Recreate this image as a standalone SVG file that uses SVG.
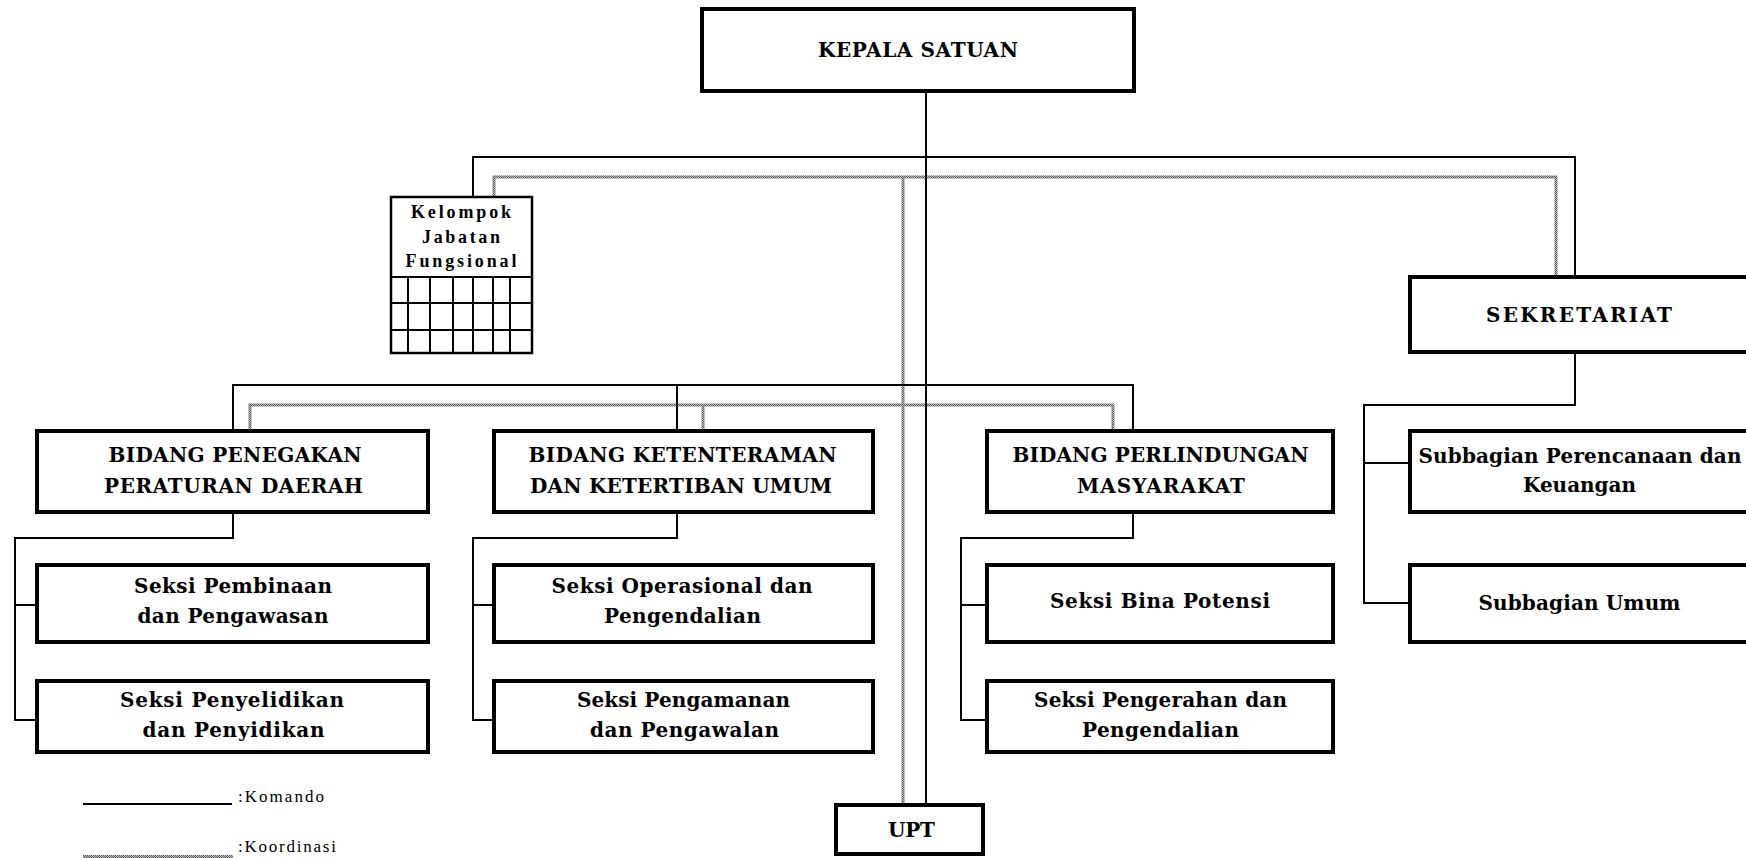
<svg xmlns="http://www.w3.org/2000/svg" width="1746" height="858" viewBox="0 0 1746 858">
  <defs>
    <!-- checkered grey fill used for coordination lines -->
    <pattern id="stipple" width="2" height="2" patternUnits="userSpaceOnUse">
      <rect width="2" height="2" fill="#c4c4c4"/>
      <rect width="1" height="1" fill="#555"/>
      <rect x="1" y="1" width="1" height="1" fill="#555"/>
    </pattern>
  </defs>
  <style>
    .box { fill: #fff; stroke: #000; stroke-width: 4; }
    .thin { fill: #fff; stroke: #000; stroke-width: 2.5; }
    .grid { fill: none; stroke: #000; stroke-width: 2; }
    .cmd { fill: none; stroke: #000; stroke-width: 2; }
    .crd { fill: none; stroke: url(#stipple); stroke-width: 3; }
    .t { font-family: "DejaVu Serif", "Liberation Serif", serif; font-weight: bold; font-size: 20px; fill: #000; text-anchor: middle; }
    .k { font-family: "Liberation Serif", "Times New Roman", serif; font-weight: bold; font-size: 18px; fill: #000; text-anchor: middle; }
    .lg { font-family: "Liberation Serif", "Times New Roman", serif; font-size: 17px; fill: #000; }
  </style>
  <rect width="1746" height="858" fill="#fff"/>

  <!-- connectors -->
  <g id="connectors">
    <!-- coordination (grey) -->
    <path class="crd" d="M494 197 V177 H1556 V276"/>
    <path class="crd" d="M903 177 V804"/>
    <path class="crd" d="M250 430 V405 H1113 V430"/>
    <path class="crd" d="M703 405 V430"/>
    <!-- command (black) -->
    <path class="cmd" d="M926 92 V804"/>
    <path class="cmd" d="M473 197 V157 H1575 V276"/>
    <path class="cmd" d="M233 430 V385 H1133 V430"/>
    <path class="cmd" d="M677 385 V430"/>
    <path class="cmd" d="M1575 353 V405 H1364 V603 H1409"/>
    <path class="cmd" d="M1364 463 H1409"/>
    <path class="cmd" d="M233 513 V538 H15 V720 H36"/>
    <path class="cmd" d="M15 605 H36"/>
    <path class="cmd" d="M677 513 V538 H473 V720 H493"/>
    <path class="cmd" d="M473 605 H493"/>
    <path class="cmd" d="M1133 513 V538 H961 V720 H986"/>
    <path class="cmd" d="M961 605 H986"/>
  </g>

  <g id="kepala-satuan">
    <rect class="box" x="702" y="9" width="432" height="82"/>
    <text class="t" x="918" y="57" textLength="200" lengthAdjust="spacing">KEPALA SATUAN</text>
  </g>

  <g id="kelompok-jabatan-fungsional">
    <rect class="thin" x="391" y="197" width="141" height="156"/>
    <path class="grid" d="M391 277 H532 M391 303 H532 M391 330 H532 M408 277 V353 M430 277 V353 M453 277 V353 M473 277 V353 M493 277 V353 M510 277 V353"/>
    <text class="k" x="461" y="218" textLength="100" lengthAdjust="spacing">Kelompok</text>
    <text class="k" x="461" y="243" textLength="78" lengthAdjust="spacing">Jabatan</text>
    <text class="k" x="461" y="267" textLength="111" lengthAdjust="spacing">Fungsional</text>
  </g>

  <g id="sekretariat">
    <rect class="box" x="1410" y="277" width="345" height="75"/>
    <text class="t" x="1579" y="322" textLength="186" lengthAdjust="spacing">SEKRETARIAT</text>
  </g>

  <g id="bidang-penegakan">
    <rect class="box" x="37" y="431" width="391" height="81"/>
    <text class="t" x="235" y="462" textLength="253" lengthAdjust="spacing">BIDANG PENEGAKAN</text>
    <text class="t" x="233.5" y="493" textLength="259" lengthAdjust="spacing">PERATURAN DAERAH</text>
  </g>

  <g id="bidang-ketenteraman">
    <rect class="box" x="494" y="431" width="379" height="81"/>
    <text class="t" x="682.5" y="462" textLength="308" lengthAdjust="spacing">BIDANG KETENTERAMAN</text>
    <text class="t" x="681" y="493" textLength="302" lengthAdjust="spacing">DAN KETERTIBAN UMUM</text>
  </g>

  <g id="bidang-perlindungan">
    <rect class="box" x="987" y="431" width="346" height="81"/>
    <text class="t" x="1160.5" y="462" textLength="296" lengthAdjust="spacing">BIDANG PERLINDUNGAN</text>
    <text class="t" x="1161" y="493" textLength="168" lengthAdjust="spacing">MASYARAKAT</text>
  </g>

  <g id="subbagian-perencanaan">
    <rect class="box" x="1410" y="431" width="345" height="81"/>
    <text class="t" x="1580" y="463" textLength="323" lengthAdjust="spacing">Subbagian Perencanaan dan</text>
    <text class="t" x="1579.5" y="492" textLength="113" lengthAdjust="spacing">Keuangan</text>
  </g>

  <g id="seksi-pembinaan">
    <rect class="box" x="37" y="565" width="391" height="77"/>
    <text class="t" x="233" y="593" textLength="198" lengthAdjust="spacing">Seksi Pembinaan</text>
    <text class="t" x="233" y="623" textLength="191" lengthAdjust="spacing">dan Pengawasan</text>
  </g>

  <g id="seksi-penyelidikan">
    <rect class="box" x="37" y="681" width="391" height="71"/>
    <text class="t" x="232" y="707" textLength="224" lengthAdjust="spacing">Seksi Penyelidikan</text>
    <text class="t" x="233.5" y="737" textLength="182" lengthAdjust="spacing">dan Penyidikan</text>
  </g>

  <g id="seksi-operasional">
    <rect class="box" x="494" y="565" width="379" height="77"/>
    <text class="t" x="682" y="593" textLength="261" lengthAdjust="spacing">Seksi Operasional dan</text>
    <text class="t" x="682.5" y="623" textLength="157" lengthAdjust="spacing">Pengendalian</text>
  </g>

  <g id="seksi-pengamanan">
    <rect class="box" x="494" y="681" width="379" height="71"/>
    <text class="t" x="683.5" y="707" textLength="213" lengthAdjust="spacing">Seksi Pengamanan</text>
    <text class="t" x="684.5" y="737" textLength="189" lengthAdjust="spacing">dan Pengawalan</text>
  </g>

  <g id="seksi-bina-potensi">
    <rect class="box" x="987" y="565" width="346" height="77"/>
    <text class="t" x="1160" y="608" textLength="220" lengthAdjust="spacing">Seksi Bina Potensi</text>
  </g>

  <g id="seksi-pengerahan">
    <rect class="box" x="987" y="681" width="346" height="71"/>
    <text class="t" x="1160.5" y="707" textLength="253" lengthAdjust="spacing">Seksi Pengerahan dan</text>
    <text class="t" x="1160.5" y="737" textLength="157" lengthAdjust="spacing">Pengendalian</text>
  </g>

  <g id="subbagian-umum">
    <rect class="box" x="1410" y="565" width="345" height="77"/>
    <text class="t" x="1579.5" y="610" textLength="202" lengthAdjust="spacing">Subbagian Umum</text>
  </g>

  <g id="upt">
    <rect class="box" x="836" y="805" width="147" height="49"/>
    <text class="t" x="911.5" y="837" textLength="47" lengthAdjust="spacing">UPT</text>
  </g>

  <g id="legend">
    <line class="cmd" x1="83" y1="804" x2="232" y2="804"/>
    <text class="lg" x="238" y="802" textLength="86" lengthAdjust="spacing">:Komando</text>
    <line class="crd" x1="83" y1="856.5" x2="233" y2="856.5"/>
    <text class="lg" x="238" y="852" textLength="98" lengthAdjust="spacing">:Koordinasi</text>
  </g>
</svg>
